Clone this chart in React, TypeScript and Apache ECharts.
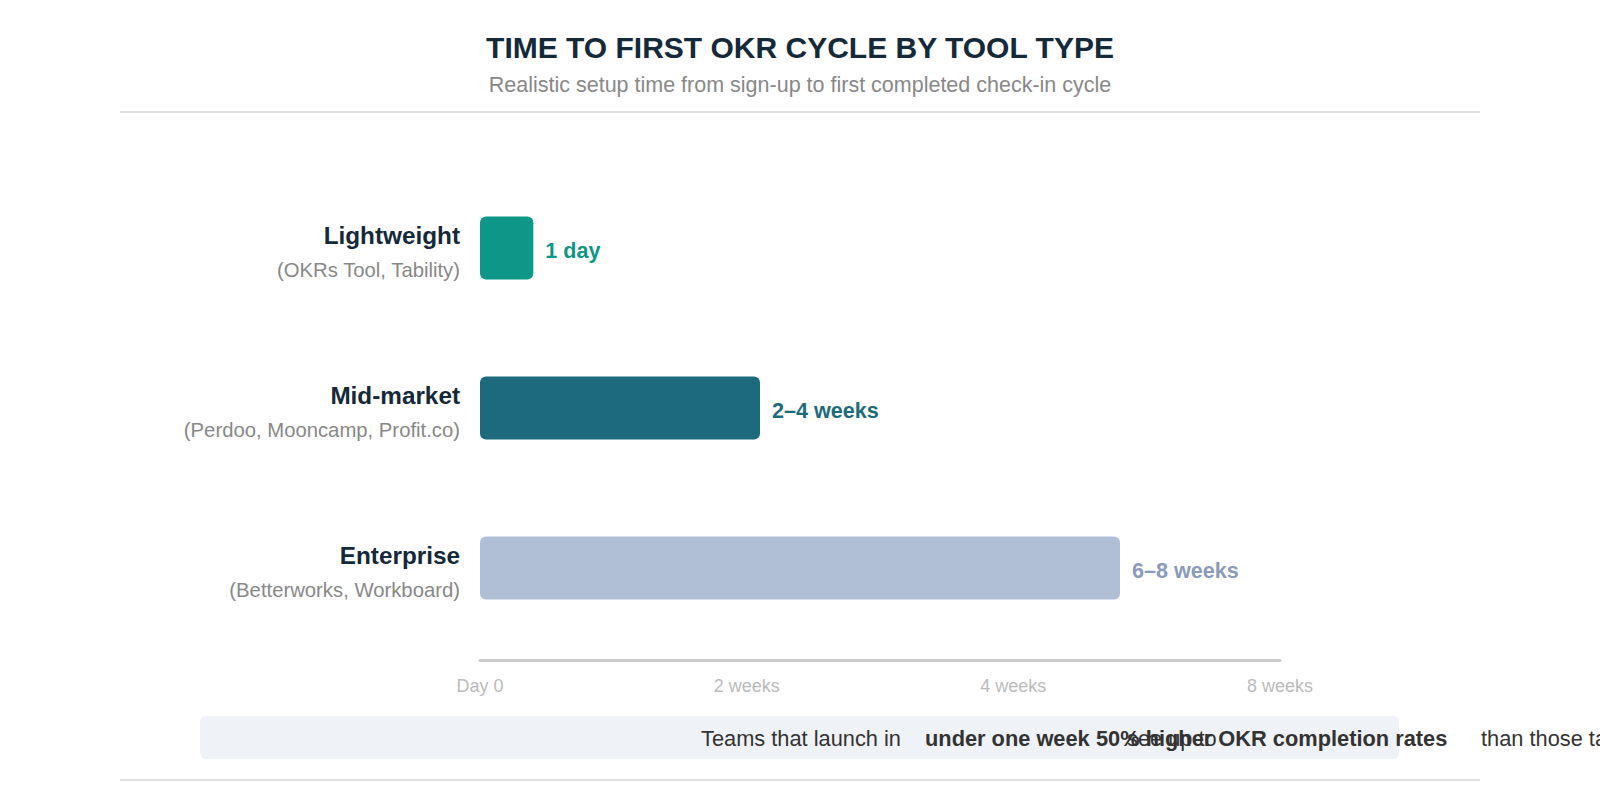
import React, { useEffect, useRef } from "react";
import * as echarts from "echarts";

const categories = ["Lightweight", "Mid-market", "Enterprise"];
const vendors = ["(OKRs Tool, Tability)", "(Perdoo, Mooncamp, Profit.co)", "(Betterworks, Workboard)"];
const setupValues = [0.2, 1.05, 2.4];
const valueLabels = ["1 day", "2–4 weeks", "6–8 weeks"];
const tickLabels = ["Day 0", "2 weeks", "4 weeks", "8 weeks"];
const barColors = ["#0e9688", "#1c6b7c", "#b0bfd5"];
const labelColors = ["#0e9688", "#1c6b7c", "#8a9bbb"];

const FONT = "'Liberation Sans', Arial, Helvetica, sans-serif";

export default function App() {
  const ref = useRef<HTMLDivElement>(null);

  useEffect(() => {
    if (!ref.current) return;
    const chart = echarts.init(ref.current, null, { renderer: "svg" });
    chart.setOption({
      animation: false,
      backgroundColor: "#ffffff",
      textStyle: { fontFamily: FONT },
      title: {
        text: "TIME TO FIRST OKR CYCLE BY TOOL TYPE",
        subtext: "Realistic setup time from sign-up to first completed check-in cycle",
        left: "center",
        top: 27,
        itemGap: 12,
        textStyle: { fontFamily: FONT, fontSize: 30, fontWeight: "bold", color: "#14293a" },
        subtextStyle: { fontFamily: FONT, fontSize: 21.5, color: "#888888" },
      },
      grid: { left: 480, right: 320, top: 168, bottom: 152 },
      xAxis: {
        type: "value",
        min: 0,
        max: 3,
        interval: 1,
        offset: 12,
        axisLine: { show: true, lineStyle: { color: "#cccccc", width: 3 } },
        axisTick: { show: false },
        splitLine: { show: false },
        axisLabel: {
          margin: 17,
          fontFamily: FONT,
          fontSize: 18,
          color: "#bbbbbb",
          formatter: (v: number) => tickLabels[Math.round(v)] ?? "",
        },
      },
      yAxis: {
        type: "category",
        inverse: true,
        data: categories,
        axisLine: { show: false },
        axisTick: { show: false },
        splitLine: { show: false },
        axisLabel: {
          margin: 20,
          align: "right",
          formatter: (v: string, i: number) => `{a|${v}}\n{b|${vendors[i]}}`,
          rich: {
            a: { fontFamily: FONT, fontSize: 24.3, fontWeight: "bold", color: "#14293a", lineHeight: 43, align: "right" },
            b: { fontFamily: FONT, fontSize: 20.3, color: "#888888", lineHeight: 25, align: "right" },
          },
        },
      },
      series: [
        {
          type: "bar",
          barWidth: 63,
          data: setupValues.map((v, i) => ({
            value: v,
            itemStyle: { color: barColors[i], borderRadius: 6 },
            label: {
              show: true,
              position: "right",
              distance: 12,
              offset: [0, 2],
              formatter: valueLabels[i],
              fontFamily: FONT,
              fontSize: 21.6,
              fontWeight: "bold",
              color: labelColors[i],
            },
          })),
        },
      ],
      graphic: [
        { type: "line", shape: { x1: 120, y1: 112, x2: 1480, y2: 112 }, style: { stroke: "#e0e0e0", lineWidth: 2 } },
        { type: "line", shape: { x1: 120, y1: 780, x2: 1480, y2: 780 }, style: { stroke: "#e0e0e0", lineWidth: 2 } },
        { type: "rect", shape: { x: 200, y: 716, width: 1199, height: 43, r: 6 }, style: { fill: "#eff2f7" } },
        { type: "text", x: 701, y: 738, style: { text: "Teams that launch in", font: `21.8px ${FONT}`, fill: "#333333", textVerticalAlign: "middle" } },
        { type: "text", x: 925, y: 738, style: { text: "under one week", font: `bold 21.8px ${FONT}`, fill: "#333333", textVerticalAlign: "middle" } },
        { type: "text", x: 1127, y: 738, style: { text: "see up to", font: `21.8px ${FONT}`, fill: "#333333", textVerticalAlign: "middle" } },
        { type: "text", x: 1096, y: 738, style: { text: "50% higher OKR completion rates", font: `bold 21.8px ${FONT}`, fill: "#333333", textVerticalAlign: "middle" } },
        { type: "text", x: 1481, y: 738, style: { text: "than those taking longer.", font: `21.8px ${FONT}`, fill: "#333333", textVerticalAlign: "middle" } },
      ],
    });
    return () => chart.dispose();
  }, []);

  return (
    <div
      ref={ref}
      style={{ position: "fixed", left: 0, top: 0, width: 1600, height: 800 }}
    />
  );
}
